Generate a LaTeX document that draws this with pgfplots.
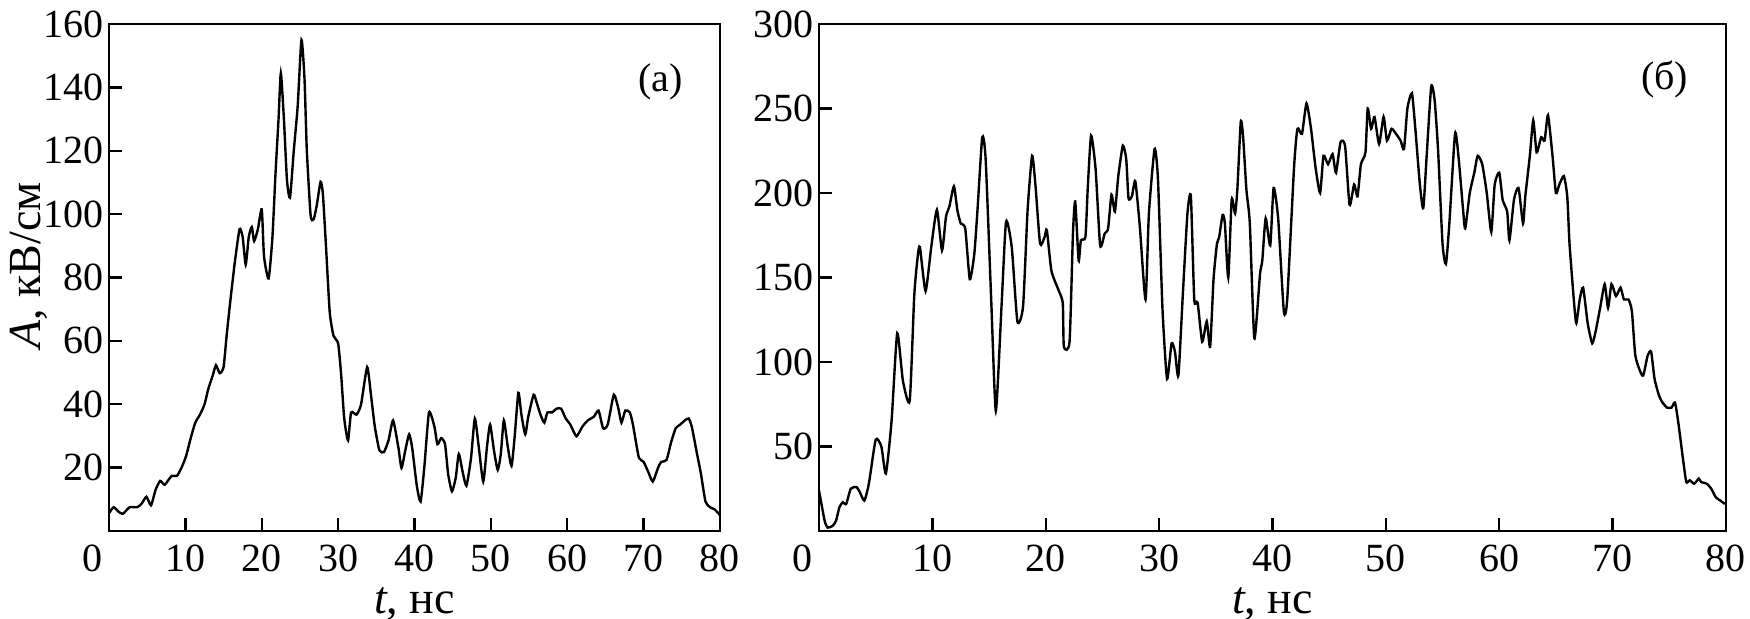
\documentclass[border=0pt]{standalone}
\usepackage{fontspec}
\setmainfont{Liberation Serif}
\usepackage{pgfplots}
\pgfplotsset{compat=1.18}
\usepackage{pgfplotstable}

\pgfplotstableread{
t A
0.0 5.6
0.6 7.5
1.2 6.2
1.8 5.4
2.7 7.5
3.7 7.5
4.3 8.7
4.9 10.8
5.5 8.1
6.1 13.0
6.7 15.8
7.3 14.6
8.2 17.4
8.9 17.4
9.5 20.0
10.1 23.7
10.7 29.3
11.3 34.2
11.9 36.7
12.5 39.9
13.0 44.8
13.6 49.2
14.0 52.3
14.5 49.8
15.0 51.7
15.4 61.6
15.9 72.9
16.5 85.3
17.1 95.3
17.5 92.8
17.9 84.1
18.3 92.8
18.7 95.9
19.0 91.5
19.5 95.3
20.0 101.5
20.3 86.6
20.9 79.7
21.4 92.8
21.8 112.7
22.2 130.1
22.5 144.5
22.9 130.1
23.3 110.8
23.7 105.2
24.2 120.2
24.7 133.9
25.2 155.0
25.6 142.6
25.9 120.2
26.4 99.6
26.8 98.4
27.2 102.7
27.7 110.2
28.0 106.5
28.4 90.3
28.9 69.1
29.4 61.6
30.0 59.2
30.4 49.2
30.8 35.5
31.3 28.6
31.7 37.4
32.4 36.7
33.0 39.9
33.8 51.7
34.3 43.0
34.8 33.0
35.4 25.5
36.0 24.9
36.6 28.6
37.2 34.9
37.9 26.2
38.3 19.9
38.8 25.5
39.3 30.5
39.7 26.2
40.3 14.3
40.8 9.3
41.3 20.5
41.9 37.4
42.6 33.0
43.0 27.4
43.5 29.3
44.0 27.4
44.4 18.1
44.9 12.5
45.4 16.8
45.8 24.3
46.3 18.7
46.8 14.3
47.4 23.0
47.9 35.5
48.4 26.8
49.0 15.6
49.5 26.8
49.9 33.6
50.4 25.5
50.9 19.3
51.3 24.3
51.7 34.9
52.2 26.8
52.7 20.5
53.1 29.3
53.6 43.6
54.0 36.7
54.5 30.5
54.9 36.1
55.6 43.0
56.0 40.5
56.5 36.7
57.0 34.2
57.4 37.4
58.0 37.4
58.6 38.6
59.2 38.6
59.8 35.5
60.4 33.6
61.2 29.9
62.0 33.0
62.7 34.9
63.5 36.1
64.1 38.0
64.7 32.4
65.3 33.6
66.1 43.0
66.7 38.6
67.1 34.2
67.6 38.0
68.2 37.4
68.6 33.6
69.0 28.0
69.4 23.0
70.0 21.8
70.6 18.7
71.2 15.6
71.9 20.0
72.3 21.8
73.0 22.4
73.6 28.0
74.2 32.4
74.8 33.6
75.4 34.9
75.9 35.5
76.3 33.0
76.9 25.5
77.5 18.1
78.1 9.3
78.7 7.5
79.3 6.8
80.0 5.0
}\dataA

\pgfplotstableread{
t A
0.0 24
0.5 6
0.76 2
1.2 3
1.5 6
1.8 14
2.1 17
2.4 16
2.8 25
3.3 26
3.6 23
4.0 18
4.4 28
5.0 54
5.5 50
5.9 34
6.4 65
6.9 117
7.4 89
8.0 77
8.4 139
8.7 162
8.9 168
9.4 142
9.9 168
10.4 190
10.85 166
11.2 186
11.5 192
11.9 204
12.2 190
12.5 182
12.9 179
13.3 149
13.7 164
14.0 192
14.4 233
14.7 220
15.2 135
15.6 71
16.1 133
16.5 183
17.0 168
17.5 124
18.0 133
18.4 190
18.8 222
19.1 204
19.5 170
19.9 174
20.1 178
20.5 154
21.1 143
21.5 135
21.6 109
22.1 112
22.4 176
22.6 195
22.9 160
23.1 172
23.5 174
23.7 202
24.0 234
24.4 214
24.8 169
25.2 176
25.5 179
25.8 199
26.1 189
26.4 210
26.8 228
27.1 220
27.3 197
27.6 198
27.9 207
28.3 180
28.8 137
29.1 188
29.6 226
29.9 208
30.3 131
30.7 90
31.1 111
31.4 106
31.7 92
32.1 141
32.5 188
32.8 198
33.1 137
33.4 135
33.8 112
34.2 124
34.5 109
34.8 149
35.1 170
35.3 174
35.6 187
35.8 182
36.1 150
36.4 196
36.7 188
36.9 202
37.2 242
37.4 234
37.7 202
38.0 182
38.4 114
38.9 152
39.1 160
39.4 185
39.8 169
40.1 203
40.5 185
41.0 130
41.3 137
41.9 215
42.2 238
42.6 235
43.0 253
43.4 238
43.8 215
44.2 200
44.5 222
44.9 217
45.3 223
45.6 212
46.0 230
46.4 228
46.8 193
47.2 205
47.5 198
47.8 217
48.2 224
48.4 250
48.7 238
49.0 245
49.4 229
49.8 245
50.1 231
50.5 238
50.9 235
51.3 231
51.6 226
51.9 250
52.3 259
52.6 238
53.0 205
53.3 191
53.6 222
54.0 263
54.3 255
54.6 226
55.0 170
55.3 158
55.6 182
56.1 235
56.4 222
56.8 191
57.0 179
57.4 200
57.8 212
58.1 222
58.5 217
58.9 200
59.3 177
59.6 205
60.0 212
60.3 196
60.7 189
60.9 172
61.3 196
61.7 203
62.1 182
62.3 198
62.7 222
63.0 243
63.3 224
63.7 233
64.0 231
64.3 246
64.7 222
65.0 200
65.3 205
65.7 210
66.0 198
66.2 170
66.6 135
66.8 123
67.1 137
67.4 144
67.8 123
68.2 111
68.5 118
68.9 132
69.3 146
69.6 132
69.9 146
70.3 139
70.7 144
71.0 137
71.4 137
71.7 130
72.0 104
72.4 95
72.7 92
73.1 104
73.4 106
73.7 90
74.1 80
74.4 76
74.8 73
75.2 73
75.5 76
75.8 64
76.2 43
76.5 29
76.8 30
77.2 28
77.6 31
77.8 29
78.3 28
78.7 25
79.1 20
79.5 18
79.9 16
}\dataB

\pgfplotsset{
  panel/.style={
    scale only axis,
    height=126.75pt,
    xmin=0, xmax=80, ymin=0,
    xtick={0,10,...,80},
    xticklabels={\makebox[0pt][r]{0\hspace{1.75pt}},10,20,30,40,50,60,70,80},
    tick align=inside,
    xtick pos=bottom, ytick pos=left,
    major tick length=3.3pt,
    axis line style={line width=0.6pt},
    every tick/.style={black, line width=0.6pt},
    /pgf/number format/assume math mode=true,
    tick label style={font=\normalsize},
    yticklabel style={xshift=2.2pt},
    xlabel={\textit{t}, нс},
    label style={font=\fontsize{11.5}{13}\selectfont},
    xlabel style={yshift=3pt},
  },
  curve/.style={black, line width=0.6pt, smooth, tension=0.35},
}

\begin{document}
\begin{tikzpicture}
\useasboundingbox (0,0) rectangle (437.5pt,154.75pt);
\begin{axis}[panel,
  at={(27.25pt,22pt)}, anchor=south west,
  width=152.75pt,
  ymax=160,
  ytick={20,40,...,160},
  ylabel={\textit{A}, кВ/см},
  ylabel style={at={(axis description cs:0,0.5)}, anchor=center, yshift=20pt, xshift=3pt},
]
\addplot[curve] table[x=t, y=A] {\dataA};
\node at (axis cs:72.2,141.8) {(a)};
\end{axis}
\begin{axis}[panel,
  at={(204.75pt,22pt)}, anchor=south west,
  width=226.75pt,
  ymax=300,
  ytick={50,100,...,300},
]
\addplot[curve] table[x=t, y=A] {\dataB};
\node at (axis cs:74.6,267) {(б)};
\end{axis}
\end{tikzpicture}
\end{document}
